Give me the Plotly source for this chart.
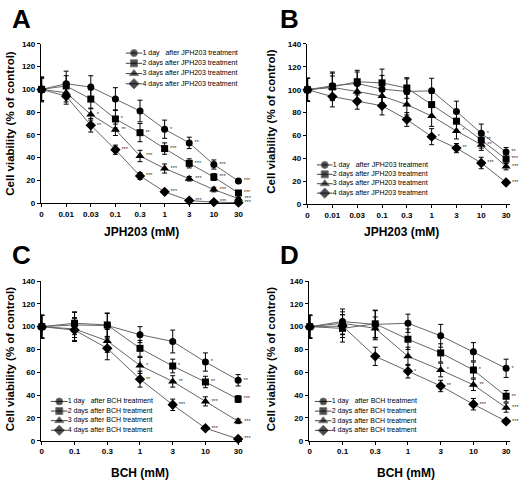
import plotly.graph_objects as go

W, H = 525, 484

def px(x):
    return x / W

def py(y):
    return 1 - y / H

# ---------------- data ----------------
doses_jph = ["0", "0.01", "0.03", "0.1", "0.3", "1", "3", "10", "30"]
doses_bch = ["0", "0.1", "0.3", "1", "3", "10", "30"]

series_names_jph = ["1 day\u00a0\u00a0\u00a0after JPH203 treatment", "2 days after JPH203 treatment",
                    "3 days after JPH203 treatment", "4 days after JPH203 treatment"]
series_names_bch = ["1 day\u00a0\u00a0\u00a0after BCH treatment", "2 days after BCH treatment",
                    "3 days after BCH treatment", "4 days after BCH treatment"]

# Panel A
A_day1 = [100, 105, 102, 91.5, 81, 65, 53, 34, 19.5]
A_day2 = [100, 103, 91.5, 74, 62, 48, 35, 23, 9]
A_day3 = [100, 97, 78, 64.5, 41.5, 30.5, 21.5, 12, 4]
A_day4 = [100, 94, 68.5, 47, 24, 10, 2.3, 1, 0.5]
A_err1 = [11, 11, 10, 10, 9.5, 8, 5, 4, 2]
A_err2 = [10, 9, 8, 8, 8, 5, 4, 3, 2]
A_err3 = [10, 8, 5, 5, 5, 4, 2, 2, 1]
A_err4 = [10, 7, 6, 4, 3, 2, 2, 1, 1]
A_sig1 = ["", "", "", "", "", "*", "**", "***", "***"]
A_sig2 = ["", "", "", "*", "**", "***", "***", "***", "***"]
A_sig3 = ["", "", "*", "**", "***", "***", "***", "***", "***"]
A_sig4 = ["", "", "**", "***", "***", "***", "***", "***", "***"]

# Panel B
B_day1 = [100, 103.5, 105.5, 100.5, 98.5, 99, 81, 62, 45.5]
B_day2 = [100, 102.5, 107, 106, 101.5, 87, 72.5, 56, 39.5]
B_day3 = [100, 102, 98.5, 94.5, 87, 77, 64, 52, 33]
B_day4 = [100, 94, 90, 86, 74, 59, 49, 36, 19]
B_err1 = [10, 12, 10, 12, 11, 11, 9, 8, 4]
B_err2 = [10, 12, 10, 12, 9, 10, 8, 7, 4]
B_err3 = [10, 10, 10, 10, 9, 9, 7, 5, 3]
B_err4 = [10, 9, 7, 8, 6, 7, 4, 5, 2]
B_sig1 = ["", "", "", "", "", "", "", "*", "**"]
B_sig2 = ["", "", "", "", "", "", "", "**", "***"]
B_sig3 = ["", "", "", "", "", "", "*", "**", "***"]
B_sig4 = ["", "", "", "", "", "*", "**", "***", "***"]

# Panel C
C_day1 = [100, 101.5, 101, 93, 87, 69, 53]
C_day2 = [100, 103, 101.5, 81, 65.5, 51.5, 36.5]
C_day3 = [100, 98, 87.5, 66, 52, 34.5, 17]
C_day4 = [100, 97, 81, 54, 31.5, 11, 1.5]
C_err1 = [10, 11, 11, 7, 10, 8, 5]
C_err2 = [10, 10, 10, 7, 6, 5, 3]
C_err3 = [10, 10, 10, 7, 5, 4, 2]
C_err4 = [10, 10, 10, 7, 5, 2, 2]
C_sig1 = ["", "", "", "", "", "*", "**"]
C_sig2 = ["", "", "", "", "*", "**", "***"]
C_sig3 = ["", "", "", "*", "**", "***", "***"]
C_sig4 = ["", "", "", "**", "***", "***", "***"]

# Panel D
D_day1 = [100, 104.5, 102, 103, 92, 78, 63.5]
D_day2 = [100, 98.5, 102.5, 89, 77, 62, 39]
D_day3 = [100, 103, 98.5, 74, 62, 49, 29]
D_day4 = [100, 100.5, 74, 61, 48, 32, 17]
D_err1 = [10, 11, 12, 8, 10, 8, 8]
D_err2 = [10, 12, 12, 9, 8, 7, 5]
D_err3 = [10, 10, 10, 8, 6, 5, 4]
D_err4 = [10, 10, 8, 6, 5, 5, 2]
D_sig1 = ["", "", "", "", "", "", "*"]
D_sig2 = ["", "", "", "", "", "*", "**"]
D_sig3 = ["", "", "", "", "*", "**", "***"]
D_sig4 = ["", "", "", "*", "**", "***", "***"]

y_ticks = [0, 20, 40, 60, 80, 100, 120, 140]
symbols = ["circle", "square", "triangle-up", "diamond"]
marker_sizes = [7, 7, 8, 8]

panels = [
    dict(letter="A", doses=doses_jph, names=series_names_jph, xtitle="JPH203 (mM)",
         vals=[A_day1, A_day2, A_day3, A_day4], errs=[A_err1, A_err2, A_err3, A_err4],
         sigs=[A_sig1, A_sig2, A_sig3, A_sig4],
         xdom=(40, 242.3), ydom=(203, 40.6), xr=(-0.03, 8.16),
         leg_x=(125, 142), leg_y=(44.8, 86.5),
         lx=9, ly=15, tx=141, ty=232, yx=9, yy=121),
    dict(letter="B", doses=doses_jph, names=series_names_jph, xtitle="JPH203 (mM)",
         vals=[B_day1, B_day2, B_day3, B_day4], errs=[B_err1, B_err2, B_err3, B_err4],
         sigs=[B_sig1, B_sig2, B_sig3, B_sig4],
         xdom=(307, 511), ydom=(204, 40.7), xr=(-0.03, 8.16),
         leg_x=(317, 333), leg_y=(159.2, 197.5),
         lx=278, ly=15, tx=402, ty=232, yx=271, yy=119),
    dict(letter="C", doses=doses_bch, names=series_names_bch, xtitle="BCH (mM)",
         vals=[C_day1, C_day2, C_day3, C_day4], errs=[C_err1, C_err2, C_err3, C_err4],
         sigs=[C_sig1, C_sig2, C_sig3, C_sig4],
         xdom=(40, 242), ydom=(445, 282.3), xr=(-0.03, 6.12),
         leg_x=(50, 67), leg_y=(400.1, 439.2),
         lx=9, ly=256, tx=140, ty=478, yx=9, yy=361),
    dict(letter="D", doses=doses_bch, names=series_names_bch, xtitle="BCH (mM)",
         vals=[D_day1, D_day2, D_day3, D_day4], errs=[D_err1, D_err2, D_err3, D_err4],
         sigs=[D_sig1, D_sig2, D_sig3, D_sig4],
         xdom=(309, 511), ydom=(445, 282.3), xr=(-0.03, 6.12),
         leg_x=(315, 332), leg_y=(400.1, 439.4),
         lx=278, ly=256, tx=407, ty=478, yx=271, yy=361),
]

FONT = "Liberation Sans, Arial, sans-serif"
fig = go.Figure()
layout = dict(width=W, height=H, margin=dict(l=0, r=0, t=0, b=0),
              paper_bgcolor="white", plot_bgcolor="rgba(0,0,0,0)",
              showlegend=False, font=dict(family=FONT, color="black"))
annotations = []

for i, p in enumerate(panels):
    k = i + 1
    lk = i + 5
    xs = list(range(len(p["doses"])))
    for j in range(4):
        fig.add_trace(go.Scatter(
            x=xs, y=p["vals"][j],
            error_y=dict(type="data", array=p["errs"][j], color="black", thickness=1, width=2.5),
            mode="lines+markers+text", text=p["sigs"][j], textposition="middle right",
            textfont=dict(size=5.5, color="#333", family=FONT),
            line=dict(color="#666", width=1),
            marker=dict(symbol=symbols[j], size=marker_sizes[j], color="black"),
            cliponaxis=False, xaxis="x%d" % k, yaxis="y%d" % k, showlegend=False,
        ))
        # legend glyph
        fig.add_trace(go.Scatter(
            x=[0, 0.5, 1], y=[j, j, j],
            mode="lines+markers+text", text=["", "", p["names"][j]], textposition="middle right",
            textfont=dict(size=7, color="black", family=FONT),
            line=dict(color="#444", width=1),
            marker=dict(symbol=symbols[j], size=[0, marker_sizes[j], 0], color="black"),
            cliponaxis=False, xaxis="x%d" % lk, yaxis="y%d" % lk, showlegend=False,
        ))
    layout["xaxis%d" % k] = dict(
        domain=[px(p["xdom"][0]), px(p["xdom"][1])], range=list(p["xr"]), anchor="y%d" % k,
        tickmode="array", tickvals=xs, ticktext=p["doses"],
        showline=True, linecolor="black", linewidth=1, ticks="outside", ticklen=3,
        tickcolor="black", showgrid=False, zeroline=False,
        tickfont=dict(size=8, family=FONT, weight="bold"))
    layout["yaxis%d" % k] = dict(
        domain=[py(p["ydom"][0]), py(p["ydom"][1])], range=[0, 140], anchor="x%d" % k,
        tickmode="array", tickvals=y_ticks,
        showline=True, linecolor="black", linewidth=1, ticks="outside", ticklen=3,
        tickcolor="black", showgrid=False, zeroline=False,
        tickfont=dict(size=8, family=FONT, weight="bold"))
    layout["xaxis%d" % lk] = dict(
        domain=[px(p["leg_x"][0]), px(p["leg_x"][1])], range=[0, 1], anchor="y%d" % lk,
        visible=False, fixedrange=True)
    layout["yaxis%d" % lk] = dict(
        domain=[py(p["leg_y"][1]), py(p["leg_y"][0])], range=[3.5, -0.5], anchor="x%d" % lk,
        visible=False, fixedrange=True)
    annotations.append(dict(text="<b>%s</b>" % p["letter"], xref="paper", yref="paper",
                            x=px(p["lx"]), y=py(p["ly"]), xanchor="left", yanchor="middle",
                            showarrow=False, font=dict(size=26, family=FONT)))
    annotations.append(dict(text="<b>%s</b>" % p["xtitle"], xref="paper", yref="paper",
                            x=px(p["tx"]), y=py(p["ty"]), xanchor="center", yanchor="middle",
                            showarrow=False, font=dict(size=12, family=FONT)))
    annotations.append(dict(text="<b>Cell viability (% of control)</b>", xref="paper", yref="paper",
                            x=px(p["yx"]), y=py(p["yy"]), xanchor="center", yanchor="middle",
                            textangle=-90, showarrow=False, font=dict(size=11.5, family=FONT)))

layout["annotations"] = annotations
fig.update_layout(**layout)
fig.write_html("out.html")
